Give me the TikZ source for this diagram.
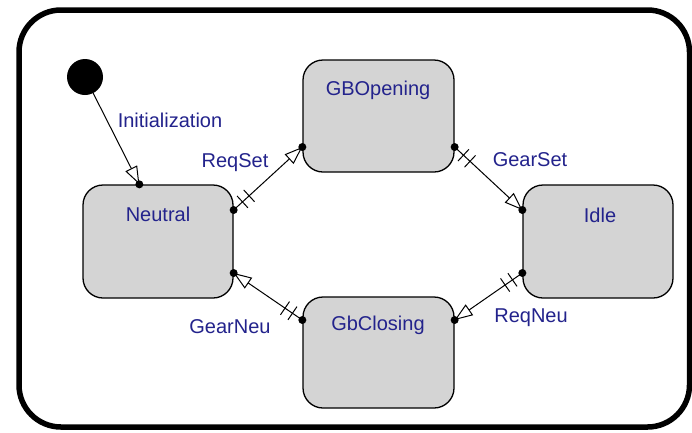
\documentclass[tikz,border=0pt]{standalone}
\usepackage{fontspec}
\setmainfont{Liberation Sans}
\usetikzlibrary{arrows.meta,decorations.markings,calc}
\definecolor{txt}{RGB}{35,35,140}
\definecolor{stfill}{RGB}{212,212,212}
\begin{document}
\begin{tikzpicture}[x=1pt,y=-1pt,
  state/.style={draw=black, line width=1.3pt, fill=stfill, rounded corners=20pt, inner sep=0pt},
  lbl/.style={text=txt, font=\fontsize{20}{24}\selectfont, inner sep=0pt},
  dotpt/.style={circle, fill=black, inner sep=0pt, minimum size=8pt},
  trans/.style={line width=1pt, -{Triangle[open, length=18pt, width=13pt]}},
  bars/.style={postaction={decorate}, decoration={markings,
     mark=at position 12pt with {\draw[arrows=-, line width=1pt] (0,-8pt)--(0,8pt) (9pt,-8pt)--(9pt,8pt);}}}
]
\useasboundingbox (0,0) rectangle (692,432);
\fill[white] (0,0) rectangle (692,432);
% outer frame
\draw[line width=5.5pt, rounded corners=42pt] (19,10) rectangle (689.5,427);
% states
\node[state, minimum width=150pt, minimum height=113pt] (neutral) at (158,241.5) {};
\node[state, minimum width=151pt, minimum height=112pt] (gbopen) at (378.5,116) {};
\node[state, minimum width=150pt, minimum height=113pt] (idle) at (598,241.5) {};
\node[state, minimum width=151pt, minimum height=111pt] (gbclose) at (378.5,352.5) {};
\node[lbl] (neutralT) at (158,214) {Neutral};
\node[lbl] (gbopenT) at (378,90) {GBOpening};
\node[lbl] (idleT) at (600,215) {Idle};
\node[lbl] (gbcloseT) at (378,325) {GbClosing};
% initial
\node[circle, fill=black, minimum size=36pt, inner sep=0pt] (init) at (85,77) {};
% connection points
\coordinate (nTop) at ($(neutral.north west)+(57,0)$);
\coordinate (nR1) at ($(neutral.east)+(0,-31.5)$);
\coordinate (nR2) at ($(neutral.east)+(0,31.5)$);
\coordinate (oL) at ($(gbopen.west)+(0,31)$);
\coordinate (oR) at ($(gbopen.east)+(0,31)$);
\coordinate (iL1) at ($(idle.west)+(0,-31.5)$);
\coordinate (iL2) at ($(idle.west)+(0,31.5)$);
\coordinate (cL) at ($(gbclose.west)+(0,-32.5)$);
\coordinate (cR) at ($(gbclose.east)+(0,-32.5)$);
% transitions
\draw[trans] (init) -- (nTop);
\draw[trans, bars] (nR1) -- (oL);
\draw[trans, bars] (oR) -- (iL1);
\draw[trans, bars] (iL2) -- (cR);
\draw[trans, bars] (cL) -- (nR2);
\foreach \p in {nTop,nR1,nR2,oL,oR,iL1,iL2,cL,cR} \node[dotpt] at (\p) {};
% labels
\node[lbl] (lInit) at (170,120) {Initialization};
\node[lbl] (lReqSet) at (235,163) {ReqSet};
\node[lbl] (lGearSet) at (530,160) {GearSet};
\node[lbl] (lReqNeu) at (531,318) {ReqNeu};
\node[lbl] (lGearNeu) at (230,327) {GearNeu};
\end{tikzpicture}
\end{document}
